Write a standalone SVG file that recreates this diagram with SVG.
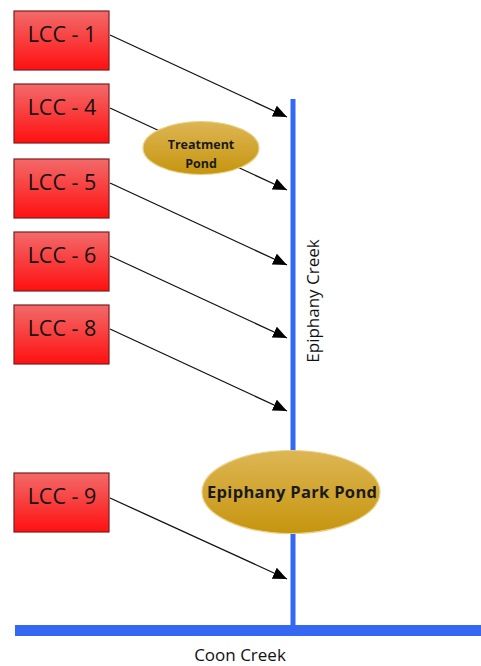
<svg xmlns="http://www.w3.org/2000/svg" width="481" height="666" viewBox="0 0 481 666">
<style>
.box{fill:url(#red);stroke:#7a1f1f;stroke-width:1.2}
.lbl{font-family:"Open Sans","Liberation Sans",sans-serif;font-size:21.5px;fill:#111;text-anchor:middle}
.pond{fill:url(#gold);stroke:#e9d18a;stroke-width:1.2}
.pt{font-family:"Open Sans","Liberation Sans",sans-serif;font-weight:bold;fill:#1a1a1a;text-anchor:middle}
.conn{stroke:#111;stroke-width:1.3;fill:none;marker-end:url(#arr)}
.creek{stroke:#3468f2;fill:none}
.ct{font-family:"Open Sans","Liberation Sans",sans-serif;fill:#111;text-anchor:middle}
</style>
<defs>
<linearGradient id="red" x1="0" y1="0" x2="0" y2="1">
<stop offset="0" stop-color="#f36a6a"/>
<stop offset="1" stop-color="#ff1010"/>
</linearGradient>
<linearGradient id="gold" x1="0" y1="0" x2="0" y2="1">
<stop offset="0" stop-color="#ddb654"/>
<stop offset="1" stop-color="#c6950e"/>
</linearGradient>
<marker id="arr" markerUnits="userSpaceOnUse" markerWidth="14" markerHeight="12" viewBox="0 0 14 12" refX="14" refY="6" orient="auto">
<path d="M0,0 L14,6 L0,12 Z" fill="#000"/>
</marker>
</defs>
<rect width="481" height="666" fill="#fff"/>
<g id="connectors">
<line class="conn" x1="110" y1="35" x2="287" y2="117"/>
<line class="conn" x1="110" y1="108" x2="287" y2="190"/>
<line class="conn" x1="110" y1="183" x2="287" y2="265"/>
<line class="conn" x1="110" y1="256" x2="287" y2="338"/>
<line class="conn" x1="110" y1="329" x2="287" y2="411"/>
<line class="conn" x1="110" y1="498" x2="287" y2="579"/>
</g>
<g id="coon-creek">
<line class="creek" x1="15" y1="630.5" x2="481" y2="630.5" stroke-width="11"/>
<text class="ct" x="240" y="661" font-size="17">Coon Creek</text>
</g>
<g id="epiphany-creek">
<line class="creek" x1="293" y1="99" x2="293" y2="630" stroke-width="5"/>
<text class="ct" transform="translate(319,301) rotate(-90)" font-size="17">Epiphany Creek</text>
</g>
<g id="lcc-1"><rect class="box" x="14" y="11" width="95" height="59"/><text class="lbl" x="62" y="42">LCC - 1</text></g>
<g id="lcc-4"><rect class="box" x="14" y="84" width="95" height="59"/><text class="lbl" x="62" y="115">LCC - 4</text></g>
<g id="lcc-5"><rect class="box" x="14" y="159" width="95" height="59"/><text class="lbl" x="62" y="190">LCC - 5</text></g>
<g id="lcc-6"><rect class="box" x="14" y="232" width="95" height="59"/><text class="lbl" x="62" y="263">LCC - 6</text></g>
<g id="lcc-8"><rect class="box" x="14" y="305" width="95" height="59"/><text class="lbl" x="62" y="336">LCC - 8</text></g>
<g id="lcc-9"><rect class="box" x="14" y="473" width="95" height="59"/><text class="lbl" x="62" y="504">LCC - 9</text></g>
<g id="treatment-pond">
<ellipse class="pond" cx="201" cy="148" rx="58" ry="26.5"/>
<text class="pt" x="201" y="149" font-size="12.5">Treatment</text>
<text class="pt" x="201" y="168" font-size="12.5">Pond</text>
</g>
<g id="epiphany-park-pond">
<ellipse class="pond" cx="291" cy="492" rx="89" ry="41.5"/>
<text class="pt" x="292" y="498" font-size="16.5" textLength="170">Epiphany Park Pond</text>
</g>
</svg>
